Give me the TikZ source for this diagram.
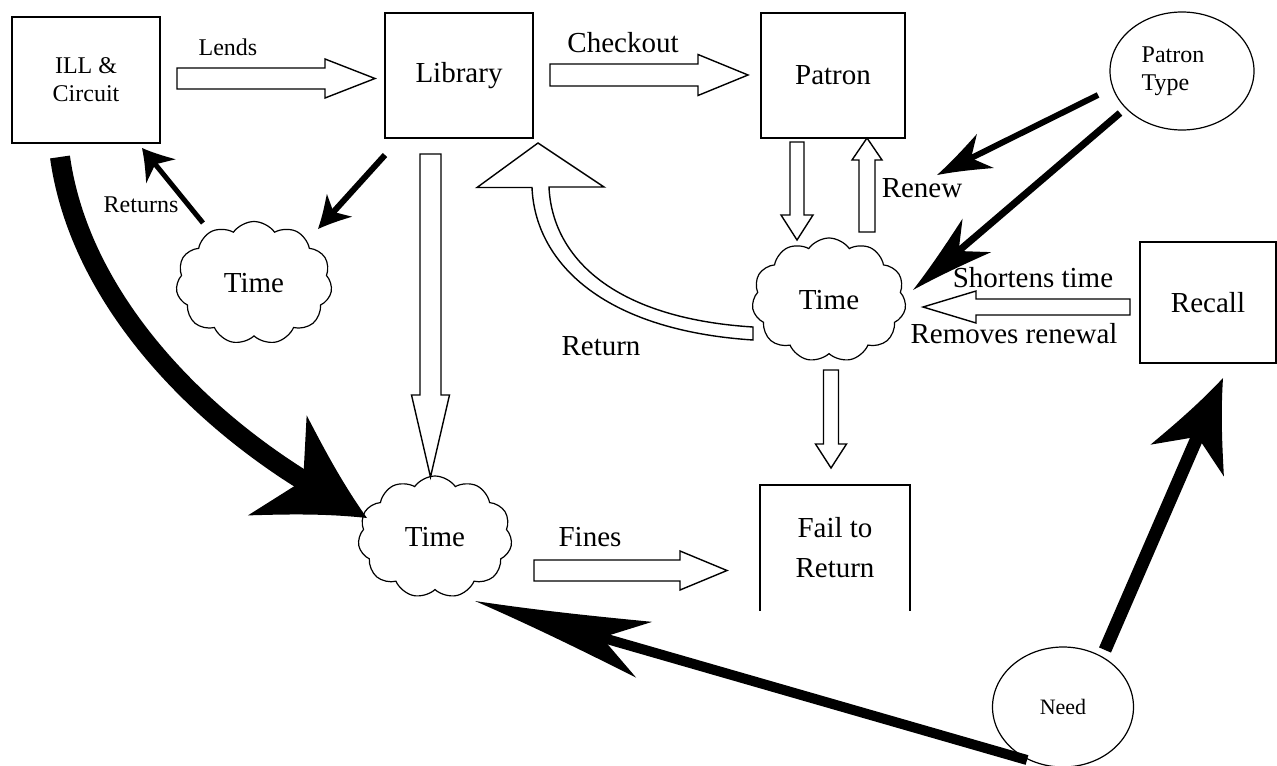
\documentclass[tikz,border=0pt]{standalone}
\usepackage{fontspec}
\setmainfont{Liberation Serif}
\usetikzlibrary{arrows.meta,calc,shapes.geometric,shapes.symbols}

\newcommand\bigtxt{\fontsize{14.5pt}{20pt}\selectfont}
\newcommand\smalltxt{\fontsize{12pt}{14pt}\selectfont}

% swept-back barbed head for the black arrows
\newdimen\swoopn
\pgfdeclarearrow{
  name=Swoop,
  parameters={\the\pgfarrowlength,\the\pgfarrowwidth,\the\pgfarrowinset},
  setup code={
    \swoopn=-.55\pgfarrowlength
    \pgfarrowssettipend{0pt}
    \pgfarrowssetlineend{\swoopn}
    \pgfarrowssetbackend{-\pgfarrowlength}
    \pgfarrowshullpoint{0pt}{0pt}
    \pgfarrowsupperhullpoint{-\pgfarrowlength}{.5\pgfarrowwidth}
    \pgfarrowssavethe\pgfarrowlength
    \pgfarrowssavethe\pgfarrowwidth
    \pgfarrowssavethe\pgfarrowinset
  },
  drawing code={
    \swoopn=\pgfarrowinset \advance\swoopn by -\pgfarrowlength
    \pgfpathmoveto{\pgfqpoint{0pt}{0pt}}
    \pgfpathcurveto{\pgfqpoint{-.4\pgfarrowlength}{.16\pgfarrowwidth}}
      {\pgfqpoint{-.75\pgfarrowlength}{.36\pgfarrowwidth}}{\pgfqpoint{-\pgfarrowlength}{.5\pgfarrowwidth}}
    \pgfpathlineto{\pgfqpoint{\swoopn}{0pt}}
    \pgfpathlineto{\pgfqpoint{-\pgfarrowlength}{-.5\pgfarrowwidth}}
    \pgfpathcurveto{\pgfqpoint{-.75\pgfarrowlength}{-.36\pgfarrowwidth}}
      {\pgfqpoint{-.4\pgfarrowlength}{-.16\pgfarrowwidth}}{\pgfqpoint{0pt}{0pt}}
    \pgfpathclose
    \pgfusepathqfill
  },
  defaults={length=10pt,width=8pt,inset=3pt}
}

\tikzset{
  box/.style={draw,line width=.9pt,inner sep=0pt,align=center,font=\bigtxt},
  blob/.style={cloud,draw,line width=.6pt,cloud puffs=11,cloud puff arc=110,
    cloud ignores aspect,inner sep=0pt,font=\bigtxt},
  oval/.style={ellipse,draw,line width=.6pt,inner sep=0pt,align=left,font=\smalltxt},
  hollow/.style={draw,fill=white,line width=.7pt,line join=miter},
  lbl/.style={inner sep=0pt,font=\bigtxt},
  smalllbl/.style={inner sep=0pt,font=\smalltxt},
  flow/.style n args={4}{line width=#1,-{Swoop[length=#2,width=#3,inset=#4]}}
}

% shaft half width, head half width, head length, from, to
\newcommand\hollowarrow[5]{%
  \path #4 coordinate (ha) #5 coordinate (hb);
  \coordinate (hh) at ($(hb)!#3!(ha)$);
  \draw[hollow] ($(ha)!#1!90:(hb)$) -- ($(hh)!#1!90:(hb)$) -- ($(hh)!#2!90:(hb)$) -- (hb)
    -- ($(hh)!#2!-90:(hb)$) -- ($(hh)!#1!-90:(hb)$) -- ($(ha)!#1!-90:(hb)$) -- cycle;
}

\begin{document}
\begin{tikzpicture}[x=.5pt,y=-.5pt]
\useasboundingbox (0,0) rectangle (1277,765);

\node[box,minimum width=74pt,minimum height=63pt,font=\smalltxt] (ill) at (86,80) {ILL \&\\Circuit};
\node[box,minimum width=74pt,minimum height=62.5pt] (lib) at (459,75.5) {Library};
\node[box,minimum width=72pt,minimum height=62.5pt] (patron) at (833,75.5) {Patron};
\node[box,minimum width=68pt,minimum height=60.5pt] (recall) at (1208,302.5) {Recall};
\node[box,draw=none,minimum width=74pt,minimum height=62pt] (fail) at (835,548) {Fail to\\Return};
\draw[line width=.9pt] (fail.south west) -- (fail.north west) -- (fail.north east) -- (fail.south east);

\node[oval,minimum width=72pt,minimum height=59pt] (ptype) at (1182,71) {Patron\hspace*{9pt}\\Type};
\node[oval,minimum width=70.5pt,minimum height=60pt,font=\fontsize{11pt}{13pt}\selectfont] (need) at (1063,707) {Need};

\node[blob,minimum width=78pt,minimum height=61.5pt] (time1) at (254,283) {Time};
\node[blob,minimum width=77pt,minimum height=62pt] (time2) at (829,300) {Time};
\node[blob,minimum width=77pt,minimum height=61pt] (time3) at (435,537) {Time};

\node[smalllbl] (lends) at (228,47) {Lends};
\node[lbl] (checkout) at (623,43) {Checkout};
\node[smalllbl] (returns) at (141,205) {Returns};
\node[lbl] (renew) at (922,188) {Renew};
\node[lbl] (shortens) at (1033,278) {Shortens time};
\node[lbl] (removes) at (1014,334) {Removes renewal};
\node[lbl] (return) at (601,346) {Return};
\node[lbl] (fines) at (590,537) {Fines};

\hollowarrow{5.25pt}{9.75pt}{25pt}{($(ill)+(91,-1.5)$)}{($(lib)+(-84,3)$)}
\hollowarrow{5.5pt}{10.25pt}{25pt}{($(lib)+(91,-.5)$)}{($(patron)+(-85,-.5)$)}
\hollowarrow{3.5pt}{8pt}{12.5pt}{($(patron)+(-36,66.5)$)}{($(time2)+(-32,-60)$)}
\hollowarrow{4pt}{7.5pt}{11pt}{($(time2)+(38,-68)$)}{($(patron)+(34,62.5)$)}
\hollowarrow{5.25pt}{9.5pt}{41pt}{($(lib)+(-28.5,78.5)$)}{($(time3)+(-4.5,-60)$)}
\hollowarrow{4pt}{8pt}{26.5pt}{($(recall)+(-78,4.5)$)}{($(time2)+(94,7)$)}
\hollowarrow{3.75pt}{7.75pt}{12pt}{($(time2)+(2,70)$)}{($(fail)+(-4,-80)$)}
\hollowarrow{5.25pt}{9.75pt}{23.5pt}{($(time3)+(99,33.5)$)}{($(fail)+(-108,22.5)$)}

\draw[hollow] ($(time2)+(-76,27)$) .. controls +(-143,-9) and +(3,68) .. ($(lib)+(90,111.5)$)
  -- ++(55,0) -- ($(lib)+(79,67.5)$) -- ++(-61,44.5) -- ++(55,0)
  .. controls +(3,73) and +(-153,-10) .. ($(time2)+(-76,40)$) -- cycle;

\draw[flow={3pt}{16pt}{17pt}{4.5pt}] ($(lib)+(-74,79.5)$) -- ($(time1)+(64,-54)$);
\draw[flow={2.5pt}{15pt}{19pt}{4.5pt}] ($(time1)+(-51,-60)$) -- ($(ill)+(56,68)$);
\draw[flow={3pt}{27pt}{19pt}{8pt}] ($(ptype)+(-84,24)$) -- ($(renew)+(15,-13)$);
\draw[flow={3.5pt}{42pt}{22pt}{12pt}] ($(ptype)+(-62,42)$) -- ($(time2)+(84,-10)$);
\draw[flow={6.5pt}{45pt}{40pt}{13pt}] ($(need)+(42,-57)$) -- ($(recall)+(15,75.5)$);
\draw[flow={5pt}{88pt}{29pt}{22pt}] ($(need)+(-36,53)$) -- ($(time3)+(40,64)$);
\draw[flow={10pt}{52pt}{58pt}{15pt}] ($(ill)+(-26,77)$) .. controls +(20,143) and +(-167,-98) .. ($(time3)+(-68,-19)$);
\end{tikzpicture}
\end{document}
